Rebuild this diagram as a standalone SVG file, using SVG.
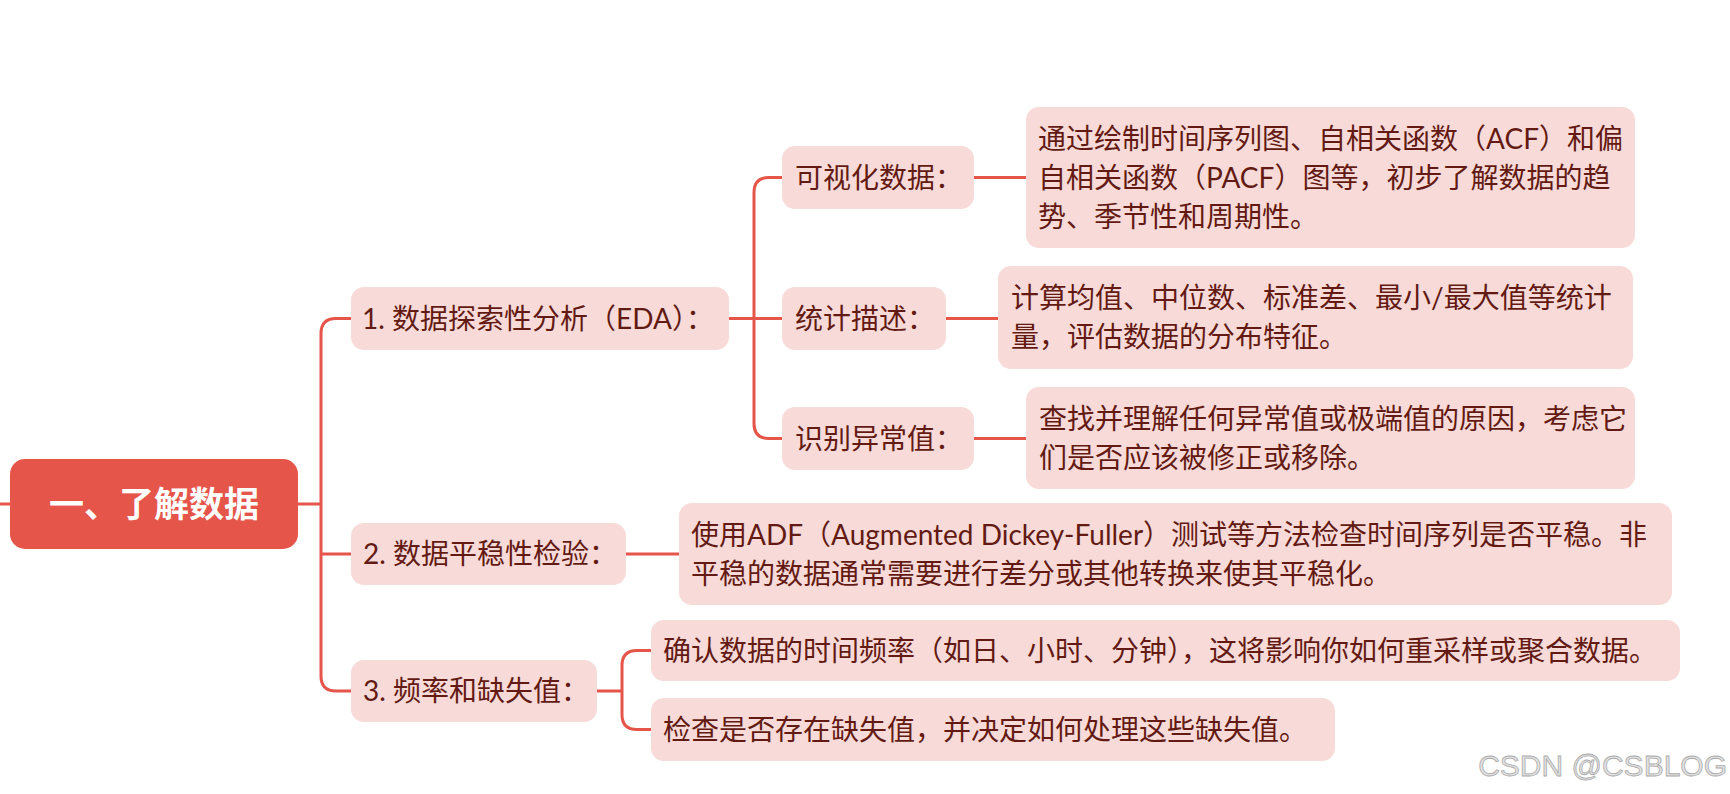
<svg xmlns="http://www.w3.org/2000/svg" width="1730" height="794" viewBox="0 0 1730 794">
<style>
.conn{fill:none;stroke:#E5554A;stroke-width:3;stroke-linecap:butt}
.box{fill:#F8DAD8}
.root{fill:#E5554A}
.t{font-family:"Lato","Noto Sans CJK SC",sans-serif;font-size:28px;fill:#631A13}
.rt{font-family:"Noto Sans CJK SC",sans-serif;font-size:35px;font-weight:bold;fill:#FFFFFF}
.wm{font-family:"Liberation Sans",sans-serif;font-size:30px;fill:#E2E2E2;stroke:#ABABAB;stroke-width:0.8}
</style>
<rect width="1730" height="794" fill="#FFFFFF"/>
<g id="connectors">
<path class="conn" d="M0,504 H10"/>
<path class="conn" d="M298,504 H321"/>
<path class="conn" d="M351,318.5 H336 Q321,318.5 321,333.5 V676 Q321,691 336,691 H351"/>
<path class="conn" d="M321,554 H351"/>
<path class="conn" d="M729,318.5 H754"/>
<path class="conn" d="M782,177.5 H769 Q754,177.5 754,192.5 V423.5 Q754,438.5 769,438.5 H782"/>
<path class="conn" d="M754,318.5 H782"/>
<path class="conn" d="M974,177.5 H1026"/>
<path class="conn" d="M946,318.5 H998"/>
<path class="conn" d="M974,438.5 H1026"/>
<path class="conn" d="M626,554 H679"/>
<path class="conn" d="M597,691 H622"/>
<path class="conn" d="M651,650.5 H637 Q622,650.5 622,665.5 V714.5 Q622,729.5 637,729.5 H651"/>
</g>
<g id="root">
<rect class="root" x="10" y="459" width="288" height="90" rx="15"/>
<text class="rt" x="154" y="517" text-anchor="middle">一、了解数据</text>
</g>
<g id="n1">
<rect class="box" x="351" y="287" width="378" height="63" rx="13"/>
<text class="t" x="362" y="328.5">1. 数据探索性分析（EDA）：</text>
</g>
<g id="n2">
<rect class="box" x="351" y="523" width="275" height="62" rx="13"/>
<text class="t" x="363" y="564">2. 数据平稳性检验：</text>
</g>
<g id="n3">
<rect class="box" x="351" y="660" width="246" height="62" rx="13"/>
<text class="t" x="363" y="701">3. 频率和缺失值：</text>
</g>
<g id="n1a">
<rect class="box" x="782" y="146" width="192" height="63" rx="13"/>
<text class="t" x="795" y="187.5">可视化数据：</text>
</g>
<g id="n1b">
<rect class="box" x="782" y="287" width="164" height="63" rx="13"/>
<text class="t" x="795" y="328.5">统计描述：</text>
</g>
<g id="n1c">
<rect class="box" x="782" y="407" width="192" height="63" rx="13"/>
<text class="t" x="795" y="448.5">识别异常值：</text>
</g>
<g id="d1a">
<rect class="box" x="1026" y="107" width="609" height="141" rx="13"/>
<text class="t" x="1038" y="148.5">通过绘制时间序列图、自相关函数（ACF）和偏</text>
<text class="t" x="1038" y="187.5">自相关函数（PACF）图等，初步了解数据的趋</text>
<text class="t" x="1038" y="226.5">势、季节性和周期性。</text>
</g>
<g id="d1b">
<rect class="box" x="998" y="266" width="635" height="103" rx="13"/>
<text class="t" x="1011" y="308">计算均值、中位数、标准差、最小/最大值等统计</text>
<text class="t" x="1011" y="347">量，评估数据的分布特征。</text>
</g>
<g id="d1c">
<rect class="box" x="1026" y="387" width="609" height="102" rx="13"/>
<text class="t" x="1039" y="428.5">查找并理解任何异常值或极端值的原因，考虑它</text>
<text class="t" x="1039" y="467.5">们是否应该被修正或移除。</text>
</g>
<g id="d2">
<rect class="box" x="679" y="503" width="993" height="102" rx="13"/>
<text class="t" x="691" y="544.5">使用ADF（Augmented Dickey-Fuller）测试等方法检查时间序列是否平稳。非</text>
<text class="t" x="691" y="583.5">平稳的数据通常需要进行差分或其他转换来使其平稳化。</text>
</g>
<g id="d3a">
<rect class="box" x="651" y="620" width="1029" height="61" rx="13"/>
<text class="t" x="663" y="660.5">确认数据的时间频率（如日、小时、分钟），这将影响你如何重采样或聚合数据。</text>
</g>
<g id="d3b">
<rect class="box" x="651" y="698" width="684" height="63" rx="13"/>
<text class="t" x="663" y="739.5">检查是否存在缺失值，并决定如何处理这些缺失值。</text>
</g>
<text class="wm" x="1727" y="776" text-anchor="end">CSDN @CSBLOG</text>
</svg>
